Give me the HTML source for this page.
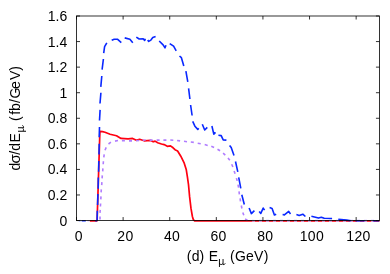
<!DOCTYPE html>
<html><head><meta charset="utf-8"><style>
html,body{margin:0;padding:0;background:#fff;}
body{width:390px;height:274px;overflow:hidden;}
svg{display:block;}
text{font-family:"Liberation Sans",sans-serif;font-size:14px;fill:#000;}
</style></head><body>
<svg width="390" height="274" viewBox="0 0 390 274">
<rect width="390" height="274" fill="#fff"/>
<g fill="none" stroke-linejoin="round" stroke-linecap="butt">
<path d="M89.8,220.8 L93.2,220.8 L97.1,220.8 L99.9,131.3 L102.5,131.6 L105.0,132.3 L110.1,134.2 L116.5,135.8 L121.0,138.4 L128.1,138.9 L132.6,138.4 L136.4,140.3 L139.6,139.3 L144.1,140.8 L150.5,140.3 L153.2,141.8 L155.1,141.1 L157.7,142.7 L161.5,144.0 L164.1,144.6 L167.3,146.3 L170.5,145.9 L173.1,147.8 L175.0,149.7 L177.6,151.0 L180.8,156.2 L184.0,162.6 L186.3,169.8 L187.4,176.9 L188.5,184.6 L189.6,196.7 L191.0,208.4 L192.4,216.5 L193.3,219.6 L194.6,220.8 L379.5,220.8" stroke="#ff0010" stroke-width="1.7"/>
<path d="M100.0,219.5 L100.0,216.5 M100.0,212.9 L100.2,209.9 M100.4,206.5 L100.6,203.5 M100.8,199.4 L101.0,196.4 M101.1,192.4 L101.3,189.4 M101.7,185.1 L101.9,182.1 M102.1,178.4 L102.3,175.4 M102.7,171.4 L102.9,168.4 M103.2,164.3 L103.4,161.3 M103.8,157.3 L104.2,154.3 M105.0,150.2 L106.2,147.4 M108.5,144.0 L110.9,142.2 M115.0,141.1 L118.0,140.5 M121.9,140.6 L124.9,140.6 M129.0,140.9 L132.0,140.9 M136.1,140.7 L139.1,140.5 M142.7,140.2 L145.7,140.0 M149.6,140.1 L152.6,140.1 M156.6,140.1 L159.6,140.1 M163.4,140.1 L166.4,140.1 M170.3,140.0 L173.3,140.2 M177.1,140.5 L180.1,140.9 M184.0,141.3 L187.0,141.7 M190.8,142.0 L193.8,142.4 M197.7,143.2 L200.7,143.8 M204.7,144.6 L207.7,145.4 M211.3,146.3 L214.1,147.5 M217.5,149.2 L220.1,150.8 M223.1,153.2 L225.3,155.2 M228.0,157.9 L229.8,160.3 M231.7,164.2 L232.9,167.0 M234.1,171.0 L235.1,173.8 M236.4,178.1 L237.2,180.9 M238.0,184.7 L238.6,187.7 M239.0,191.3 L239.4,194.3 M240.1,198.4 L240.5,201.4 M241.3,205.5 L241.9,208.5 M242.8,212.5 L243.8,215.3 M245.1,218.8 L247.5,220.4" stroke="#b07cff" stroke-width="1.6"/>
<path d="M252.0,220.6 L255.0,220.9 M259.0,220.8 L262.0,220.8 M266.0,220.8 L269.0,220.8 M273.0,220.8 L276.0,220.8 M280.0,220.8 L283.0,220.8 M287.0,220.8 L290.0,220.8 M294.0,220.8 L297.0,220.8 M301.0,220.8 L304.0,220.8 M308.0,220.8 L311.0,220.8 M315.0,220.8 L318.0,220.8 M322.0,220.8 L325.0,220.8 M329.0,220.8 L332.0,220.8 M336.0,220.8 L339.0,220.8 M343.0,220.8 L346.0,220.8 M350.0,220.8 L353.0,220.8 M357.0,220.8 L360.0,220.8 M364.0,220.8 L367.0,220.8 M371.0,220.8 L374.0,220.8" stroke="#c8b8ff" stroke-width="1.9"/>
<path d="M97.1,220.8 L97.3,210.8 M97.6,205.0 L97.9,194.1 M98.2,188.7 L98.3,177.6 M98.6,171.8 L98.8,160.9 M99.0,154.5 L99.2,143.7 M99.2,137.3 L99.5,127.0 M99.5,120.5 L100.1,109.9 M100.0,103.5 L100.9,92.8 M100.8,86.9 L101.8,76.0 M102.1,69.6 L103.4,59.0 M103.7,53.1 L104.6,46.7 L106.8,42.8 M111.7,40.3 L114.2,39.2 L117.4,39.2 L121.3,42.6 M124.7,37.9 L129.9,39.2 L132.8,42.8 M136.3,37.1 L139.2,39.0 L143.2,38.9 L144.7,40.5 L145.3,38.7 M147.7,40.1 L148.7,41.4 L150.9,40.1 L152.8,37.6 L155.6,36.5 M159.2,41.0 L163.1,44.9 L165.0,47.8 L166.0,45.3 M169.7,43.6 L173.6,46.2 L176.2,50.8 M179.5,56.0 L181.4,57.7 L183.8,66.0 M185.9,71.2 L187.8,81.8 M188.6,88.3 L189.9,99.0 M190.6,105.0 L192.1,115.5 M192.7,121.4 L194.9,126.2 L197.8,129.4 L198.7,128.3 M202.3,124.2 L204.7,130.0 L207.3,127.4 M211.9,126.0 L213.8,134.1 L215.5,132.4 M218.4,135.3 L221.2,135.6 L223.2,139.9 L226.4,140.1 M229.6,145.6 L231.2,147.6 L234.0,155.5 M235.5,161.5 L237.8,171.8 M238.7,177.3 L240.8,188.3 M241.8,194.7 L244.3,204.5 M249.1,208.0 L251.4,213.6 L254.4,210.7 M259.2,211.5 L260.8,213.4 L263.2,208.1 L264.6,210.1 M269.6,207.6 L272.1,208.5 L274.4,214.9 L276.2,214.2 M282.6,214.5 L284.4,214.9 L288.7,211.4 L290.5,214.0 M296.4,214.5 L299.2,215.5 L302.8,214.2 L305.4,216.5 M311.4,216.2 L318.5,218.1 L321.3,217.2 L324.2,218.3 L332.1,218.5 M338.3,219.2 L346.7,220.1 L350.8,220.8 M355.4,220.8 L364.6,220.8 M373.0,220.8 L379.2,220.8 M81.7,220.8 L85.8,220.8 M95.1,220.8 L97.1,220.8" stroke="#0a28ff" stroke-width="1.6"/>
<path d="M78.7,220.75 L80.7,220.75" stroke="#0a28ff" stroke-width="1.7" opacity="0.35"/>
<path d="M87.4,220.75 L88.9,220.75" stroke="#b07cff" stroke-width="1.7" opacity="0.5"/>
</g>
<g stroke="#000" stroke-width="0.8"><line x1="76.50" y1="220.55" x2="76.50" y2="217.05"/><line x1="76.50" y1="16.00" x2="76.50" y2="19.50"/><line x1="123.11" y1="220.55" x2="123.11" y2="217.05"/><line x1="123.11" y1="16.00" x2="123.11" y2="19.50"/><line x1="169.72" y1="220.55" x2="169.72" y2="217.05"/><line x1="169.72" y1="16.00" x2="169.72" y2="19.50"/><line x1="216.32" y1="220.55" x2="216.32" y2="217.05"/><line x1="216.32" y1="16.00" x2="216.32" y2="19.50"/><line x1="262.93" y1="220.55" x2="262.93" y2="217.05"/><line x1="262.93" y1="16.00" x2="262.93" y2="19.50"/><line x1="309.54" y1="220.55" x2="309.54" y2="217.05"/><line x1="309.54" y1="16.00" x2="309.54" y2="19.50"/><line x1="356.15" y1="220.55" x2="356.15" y2="217.05"/><line x1="356.15" y1="16.00" x2="356.15" y2="19.50"/><line x1="76.50" y1="220.55" x2="80.00" y2="220.55"/><line x1="379.45" y1="220.55" x2="375.95" y2="220.55"/><line x1="76.50" y1="194.98" x2="80.00" y2="194.98"/><line x1="379.45" y1="194.98" x2="375.95" y2="194.98"/><line x1="76.50" y1="169.41" x2="80.00" y2="169.41"/><line x1="379.45" y1="169.41" x2="375.95" y2="169.41"/><line x1="76.50" y1="143.84" x2="80.00" y2="143.84"/><line x1="379.45" y1="143.84" x2="375.95" y2="143.84"/><line x1="76.50" y1="118.28" x2="80.00" y2="118.28"/><line x1="379.45" y1="118.28" x2="375.95" y2="118.28"/><line x1="76.50" y1="92.71" x2="80.00" y2="92.71"/><line x1="379.45" y1="92.71" x2="375.95" y2="92.71"/><line x1="76.50" y1="67.14" x2="80.00" y2="67.14"/><line x1="379.45" y1="67.14" x2="375.95" y2="67.14"/><line x1="76.50" y1="41.57" x2="80.00" y2="41.57"/><line x1="379.45" y1="41.57" x2="375.95" y2="41.57"/><line x1="76.50" y1="16.00" x2="80.00" y2="16.00"/><line x1="379.45" y1="16.00" x2="375.95" y2="16.00"/></g>
<rect x="76.5" y="16.0" width="302.95" height="204.55" fill="none" stroke="#000" stroke-width="0.8"/>
<g style="filter:grayscale(1)"><text x="78.80" y="240.5" text-anchor="middle" letter-spacing="0.3">0</text><text x="125.41" y="240.5" text-anchor="middle" letter-spacing="0.3">20</text><text x="172.02" y="240.5" text-anchor="middle" letter-spacing="0.3">40</text><text x="218.62" y="240.5" text-anchor="middle" letter-spacing="0.3">60</text><text x="265.23" y="240.5" text-anchor="middle" letter-spacing="0.3">80</text><text x="311.84" y="240.5" text-anchor="middle" letter-spacing="0.3">100</text><text x="358.45" y="240.5" text-anchor="middle" letter-spacing="0.3">120</text><text x="67.3" y="225.55" text-anchor="end">0</text><text x="67.3" y="199.98" text-anchor="end">0.2</text><text x="67.3" y="174.41" text-anchor="end">0.4</text><text x="67.3" y="148.84" text-anchor="end">0.6</text><text x="67.3" y="123.28" text-anchor="end">0.8</text><text x="67.3" y="97.71" text-anchor="end">1</text><text x="67.3" y="72.14" text-anchor="end">1.2</text><text x="67.3" y="46.57" text-anchor="end">1.4</text><text x="67.3" y="21.00" text-anchor="end">1.6</text>
<text x="186.85" y="261.3" letter-spacing="0.15">(d)</text>
<text x="208.8" y="261.3">E</text>
<text x="218.3" y="265" style="font-size:10.5px">μ</text>
<path d="M223.0,264.6 q1.6,0.5 2.3,-1.4" fill="none" stroke="#000" stroke-width="0.8"/>
<text x="229.95" y="261.3" letter-spacing="0.28">(GeV)</text>
<g transform="translate(20,170.8) rotate(-90)">
<text x="0.2 7.2 16.1 20.0 28.2" y="0"><tspan>d</tspan><tspan font-size="15">σ</tspan><tspan>/</tspan><tspan>d</tspan><tspan>E</tspan></text>
<text x="38.4" y="4" style="font-size:10.5px">μ</text>
<path d="M43.1,3.6 q1.6,0.5 2.3,-1.4" fill="none" stroke="#000" stroke-width="0.8"/>
<text x="49.9 56.1 59.9 67.8 72.3 81.9 90.7 100.0" y="0">(fb/GeV)</text>
</g>
</g>
</svg>
</body></html>
